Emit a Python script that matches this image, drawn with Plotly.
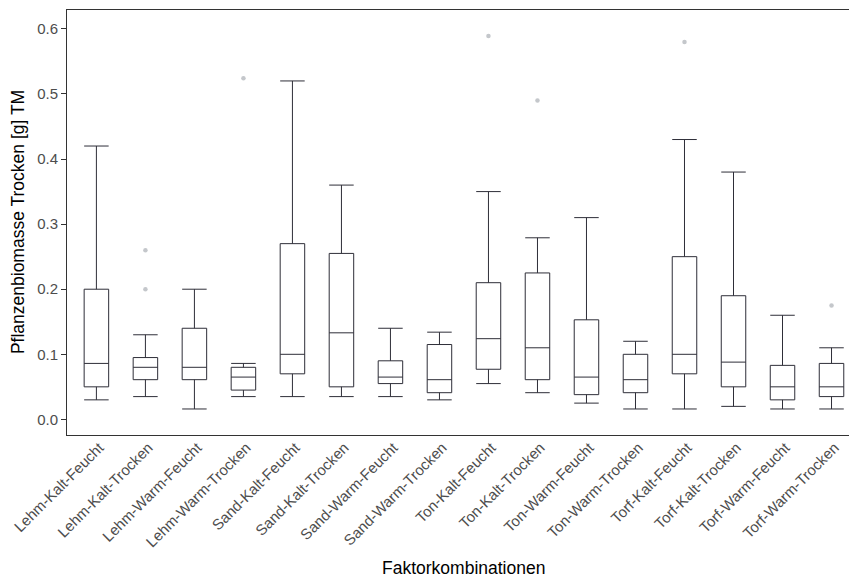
import plotly.graph_objects as go

categories = ["Lehm-Kalt-Feucht", "Lehm-Kalt-Trocken", "Lehm-Warm-Feucht", "Lehm-Warm-Trocken",
              "Sand-Kalt-Feucht", "Sand-Kalt-Trocken", "Sand-Warm-Feucht", "Sand-Warm-Trocken",
              "Ton-Kalt-Feucht", "Ton-Kalt-Trocken", "Ton-Warm-Feucht", "Ton-Warm-Trocken",
              "Torf-Kalt-Feucht", "Torf-Kalt-Trocken", "Torf-Warm-Feucht", "Torf-Warm-Trocken"]
lower_whisker = [0.030, 0.035, 0.016, 0.035, 0.035, 0.035, 0.035, 0.030,
                 0.055, 0.041, 0.025, 0.016, 0.016, 0.020, 0.016, 0.016]
q1 = [0.050, 0.061, 0.061, 0.045, 0.070, 0.050, 0.055, 0.041,
      0.077, 0.061, 0.038, 0.041, 0.070, 0.050, 0.030, 0.035]
median = [0.086, 0.080, 0.080, 0.065, 0.100, 0.133, 0.065, 0.061,
          0.124, 0.110, 0.065, 0.061, 0.100, 0.088, 0.050, 0.050]
q3 = [0.200, 0.095, 0.140, 0.080, 0.270, 0.255, 0.090, 0.115,
      0.210, 0.225, 0.153, 0.100, 0.250, 0.190, 0.083, 0.086]
upper_whisker = [0.420, 0.130, 0.200, 0.086, 0.520, 0.360, 0.140, 0.134,
                 0.350, 0.279, 0.310, 0.120, 0.430, 0.380, 0.160, 0.110]
outlier_cat = ["Lehm-Kalt-Trocken", "Lehm-Kalt-Trocken", "Lehm-Warm-Trocken",
               "Ton-Kalt-Feucht", "Ton-Kalt-Trocken", "Torf-Kalt-Feucht", "Torf-Warm-Trocken"]
outlier_val = [0.260, 0.200, 0.524, 0.589, 0.490, 0.580, 0.175]
y_ticks = [0.0, 0.1, 0.2, 0.3, 0.4, 0.5, 0.6]
x_title = "Faktorkombinationen"
y_title = "Pflanzenbiomasse Trocken [g] TM"

fig = go.Figure()
fig.add_trace(go.Box(
    x=categories, q1=q1, median=median, q3=q3,
    lowerfence=lower_whisker, upperfence=upper_whisker,
    boxpoints=False, width=0.5, whiskerwidth=1,
    fillcolor="white", line=dict(color="#2E2E38", width=1),
    showlegend=False, hoverinfo="skip"))
fig.add_trace(go.Scatter(
    x=outlier_cat, y=outlier_val, mode="markers",
    marker=dict(color="#C4C7CB", size=4.5), showlegend=False))

# the page body adds an 8px offset, so the figure is sized/margined to compensate
fig.update_layout(
    width=849, height=570,
    margin=dict(l=59, r=0, t=2, b=143),
    paper_bgcolor="white", plot_bgcolor="white",
    font=dict(family="Liberation Sans, Arial, sans-serif"),
    xaxis=dict(type="category", categoryorder="array", categoryarray=categories,
               range=[-0.6, 15.52], showline=True, linecolor="#333333", linewidth=1,
               mirror=True, ticks="", showgrid=False, tickangle=-45, automargin=False,
               ticklabelshift=3, ticklabelstandoff=-3,
               tickfont=dict(size=15, color="#4D4D4D")),
    yaxis=dict(range=[-0.024, 0.629], tickvals=y_ticks, tickformat=".1f",
               showline=True, linecolor="#333333", linewidth=1,
               ticks="outside", ticklen=5, tickcolor="#333333",
               showgrid=False, zeroline=False, automargin=False,
               tickfont=dict(size=15, color="#4D4D4D")),
    annotations=[
        dict(text=x_title, xref="paper", yref="paper", x=0.502, y=-0.313,
             xanchor="center", yanchor="middle", showarrow=False,
             font=dict(size=17.5, color="black")),
        dict(text=y_title, xref="paper", yref="paper", x=-0.062, y=0.501,
             xanchor="center", yanchor="middle", showarrow=False, textangle=-90,
             font=dict(size=17.5, color="black")),
    ],
)
fig.write_html("out.html")
